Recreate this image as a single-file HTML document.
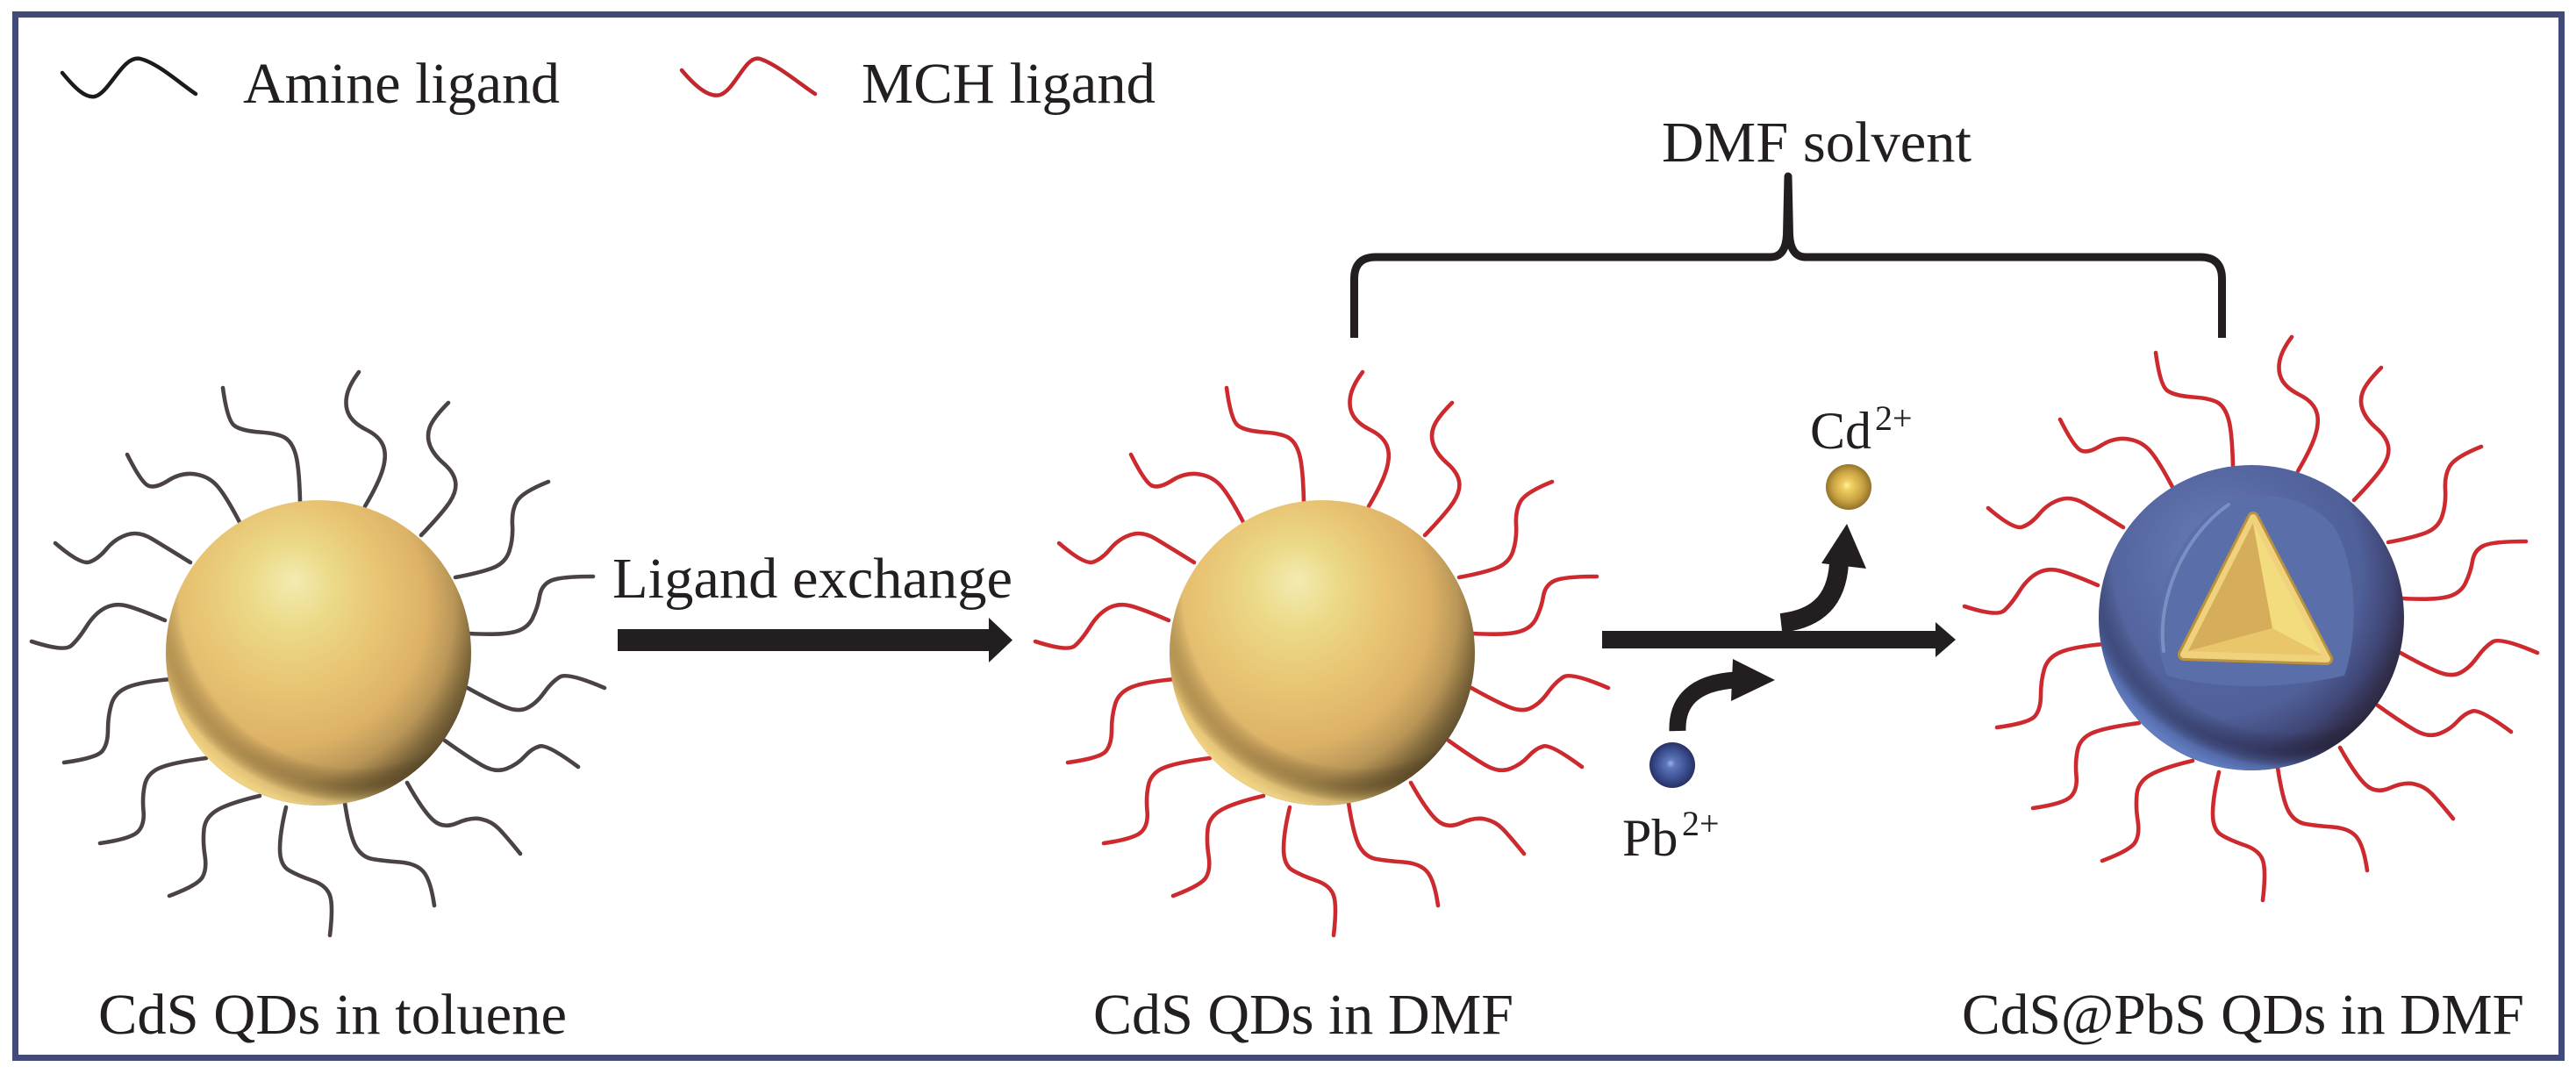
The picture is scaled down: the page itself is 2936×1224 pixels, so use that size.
<!DOCTYPE html>
<html>
<head>
<meta charset="utf-8">
<style>
  html,body{margin:0;padding:0;background:#fff;}
  svg{display:block;}
  text{font-family:"Liberation Serif","Times New Roman",serif;fill:#231f20;}
</style>
</head>
<body>
<svg xmlns="http://www.w3.org/2000/svg" xmlns:xlink="http://www.w3.org/1999/xlink" width="2936" height="1224" viewBox="0 0 2936 1224">
<defs>
  <radialGradient id="gold" cx="0.38" cy="0.38" r="0.68" fx="0.42" fy="0.26">
    <stop offset="0" stop-color="#f3ebb2"/>
    <stop offset="0.2" stop-color="#ebda88"/>
    <stop offset="0.45" stop-color="#e8c473"/>
    <stop offset="0.68" stop-color="#ddb267"/>
    <stop offset="0.82" stop-color="#b99657"/>
    <stop offset="0.93" stop-color="#786238"/>
    <stop offset="1" stop-color="#5a4a2b"/>
  </radialGradient>
  <radialGradient id="goldrim" cx="0.62" cy="0.3" r="0.72">
    <stop offset="0" stop-color="#000" stop-opacity="0"/>
    <stop offset="0.8" stop-color="#000" stop-opacity="0"/>
    <stop offset="0.88" stop-color="#5a461e" stop-opacity="0.3"/>
    <stop offset="0.96" stop-color="#f0d080" stop-opacity="0.75"/>
    <stop offset="1" stop-color="#f6da8a" stop-opacity="0.9"/>
  </radialGradient>
  <radialGradient id="blue" cx="0.38" cy="0.38" r="0.68" fx="0.4" fy="0.28">
    <stop offset="0" stop-color="#6c7eb6"/>
    <stop offset="0.45" stop-color="#5667a1"/>
    <stop offset="0.7" stop-color="#4f5f98"/>
    <stop offset="0.84" stop-color="#414777"/>
    <stop offset="0.94" stop-color="#312f4c"/>
    <stop offset="1" stop-color="#2a2740"/>
  </radialGradient>
  <radialGradient id="bluerim" cx="0.62" cy="0.3" r="0.72">
    <stop offset="0" stop-color="#000" stop-opacity="0"/>
    <stop offset="0.8" stop-color="#000" stop-opacity="0"/>
    <stop offset="0.88" stop-color="#1e1e3c" stop-opacity="0.3"/>
    <stop offset="0.96" stop-color="#5a76bb" stop-opacity="0.8"/>
    <stop offset="1" stop-color="#6682c6" stop-opacity="0.9"/>
  </radialGradient>
  <radialGradient id="cdion" cx="0.5" cy="0.5" r="0.55" fx="0.46" fy="0.46">
    <stop offset="0" stop-color="#fff2a0"/>
    <stop offset="0.18" stop-color="#f0d060"/>
    <stop offset="0.6" stop-color="#c9a242"/>
    <stop offset="0.88" stop-color="#98782e"/>
    <stop offset="1" stop-color="#7a6025"/>
  </radialGradient>
  <radialGradient id="pbion" cx="0.5" cy="0.5" r="0.55" fx="0.46" fy="0.46">
    <stop offset="0" stop-color="#9cb0e8"/>
    <stop offset="0.18" stop-color="#5e76bc"/>
    <stop offset="0.6" stop-color="#3b4f90"/>
    <stop offset="0.88" stop-color="#2a3468"/>
    <stop offset="1" stop-color="#1f2550"/>
  </radialGradient>

  <g id="lig" fill="none" stroke-width="4.6" stroke-linecap="round" stroke-linejoin="round">
    <path d="M-21,-173 Q-22,-212 -26,-226 Q-30,-240 -38,-245 Q-46,-250 -67,-251.5 Q-88,-253 -96,-259 Q-104,-265 -109,-302"/>
    <path d="M53,-167 Q69,-194 73.5,-210 Q78,-226 73.5,-236.5 Q69,-247 55,-254 Q41,-261 35.5,-270 Q30,-279 32,-291.5 Q34,-304 46,-320"/>
    <path d="M117,-134 Q142,-160 150,-172.5 Q158,-185 156,-195.5 Q154,-206 142.5,-216 Q131,-226 127,-236.5 Q123,-247 127,-257.5 Q131,-268 148,-285"/>
    <path d="M156,-86 Q183,-91 198,-96.5 Q213,-102 217.5,-116 Q222,-130 221,-146 Q220,-162 226,-172.5 Q232,-183 262,-195"/>
    <path d="M172,-22 Q206,-20 222,-23.5 Q238,-27 244,-39.5 Q250,-52 252,-64.5 Q254,-77 264.5,-82 Q275,-87 313,-87"/>
    <path d="M170,40 Q195,54 211,61 Q227,68 237.5,63 Q248,58 257,45.5 Q266,33 275,27.5 Q284,22 326,40"/>
    <path d="M144,100 Q172,120 187,128.5 Q202,137 214.5,132 Q227,127 235,118 Q243,109 252,106.5 Q261,104 296,130"/>
    <path d="M101,148 Q119,180 130.5,190.5 Q142,201 158,194 Q174,187 185.5,189.5 Q197,192 205,200 Q213,208 230,229"/>
    <path d="M30,171 Q36,210 43,221.5 Q50,233 61.5,235 Q73,237 92.5,238.5 Q112,240 120,250 Q128,260 132,288"/>
    <path d="M-37,176 Q-44,205 -44,223.5 Q-44,242 -33.5,248 Q-23,254 -7,259.5 Q9,265 13,276.5 Q17,288 13,322"/>
    <path d="M-67,163 Q-101,171 -115,179 Q-129,187 -130.5,201 Q-132,215 -129.5,231 Q-127,247 -132.5,256 Q-138,265 -170,277"/>
    <path d="M-128,120 Q-166,125 -180.5,131 Q-195,137 -198,150.5 Q-201,164 -199.5,180 Q-198,196 -206,204 Q-214,212 -249,217"/>
    <path d="M-168,30 Q-202,33 -217,39 Q-232,45 -236,58.5 Q-240,72 -240,88 Q-240,104 -246.5,112 Q-253,120 -290,125"/>
    <path d="M-175,-37 Q-205,-50 -218.5,-53.5 Q-232,-57 -243.5,-51 Q-255,-45 -264.5,-30 Q-274,-15 -282,-8 Q-290,-1 -327,-13"/>
    <path d="M-146,-103 Q-175,-121 -190,-130 Q-205,-139 -218.5,-134.5 Q-232,-130 -241.5,-118.5 Q-251,-107 -261,-103.5 Q-271,-100 -300,-125"/>
    <path d="M-90,-149 Q-104,-176 -114,-188.5 Q-124,-201 -140,-203.5 Q-156,-206 -171,-196.5 Q-186,-187 -194,-190.5 Q-202,-194 -218,-226"/>
  </g>
</defs>

<!-- frame -->
<rect x="17.5" y="16.5" width="2902" height="1189" fill="none" stroke="#414a78" stroke-width="7"/>

<!-- legend -->
<path d="M71,83 C85,100 97,112 108,110 C125,106 140,62 160,67 C180,72 205,95 223,107" fill="none" stroke="#1e1a1b" stroke-width="4.5" stroke-linecap="round"/>
<text x="277" y="117" font-size="66" textLength="361" lengthAdjust="spacingAndGlyphs">Amine ligand</text>
<path d="M777,80 C792,98 808,112 821,108 C838,102 850,62 866,67 C885,73 912,96 929,107" fill="none" stroke="#c1272d" stroke-width="4.5" stroke-linecap="round"/>
<text x="982" y="117" font-size="66" textLength="335" lengthAdjust="spacingAndGlyphs">MCH ligand</text>

<!-- DMF solvent bracket -->
<text x="1894" y="184" font-size="66" textLength="353" lengthAdjust="spacingAndGlyphs">DMF solvent</text>
<path d="M1543.5,385 L1543.5,318 Q1543.5,293 1568,293 L2018,293 Q2035,293 2036.5,268 L2038,201 L2039.5,268 Q2041,293 2058,293 L2508,293 Q2532.5,293 2532.5,318 L2532.5,385" fill="none" stroke="#231f20" stroke-width="9" stroke-linejoin="round"/>

<!-- Sphere 1: CdS with amine ligands -->
<use xlink:href="#lig" href="#lig" x="363" y="744" stroke="#4a4244"/>
<circle cx="363" cy="744" r="174" fill="url(#gold)"/>
<circle cx="363" cy="744" r="174" fill="url(#goldrim)"/>

<!-- Arrow 1 -->
<text x="698" y="681" font-size="66" textLength="456" lengthAdjust="spacingAndGlyphs">Ligand exchange</text>
<rect x="704" y="717" width="426" height="25" fill="#231f20"/>
<polygon points="1127,704 1154,729.5 1127,755" fill="#231f20"/>

<!-- Sphere 2: CdS with MCH ligands -->
<use xlink:href="#lig" href="#lig" x="1507" y="744" stroke="#cc2a2e"/>
<circle cx="1507" cy="744" r="174" fill="url(#gold)"/>
<circle cx="1507" cy="744" r="174" fill="url(#goldrim)"/>

<!-- Main reaction arrow -->
<rect x="1826" y="719" width="382" height="20" fill="#231f20"/>
<polygon points="2206,709 2229,729 2206,749" fill="#231f20"/>
<!-- Cd out-arrow -->
<path d="M2030,710 C2065,706 2093,690 2096,642" fill="none" stroke="#231f20" stroke-width="22"/>
<polygon points="2076,642 2127,648 2105,597" fill="#231f20"/>
<circle cx="2107" cy="555" r="26" fill="url(#cdion)"/>
<text x="2063" y="511" font-size="60">Cd</text>
<text x="2137" y="490" font-size="40">2+</text>
<!-- Pb in-arrow -->
<path d="M1912,833 C1911,800 1930,778 1978,775" fill="none" stroke="#231f20" stroke-width="19"/>
<polygon points="1975,751 1973,799 2023,775" fill="#231f20"/>
<circle cx="1906" cy="872" r="26" fill="url(#pbion)"/>
<text x="1849" y="975" font-size="60">Pb</text>
<text x="1917" y="952" font-size="40">2+</text>

<!-- Sphere 3: CdS@PbS -->
<use xlink:href="#lig" href="#lig" x="2566" y="704" stroke="#cc2a2e"/>
<circle cx="2566" cy="704" r="174" fill="url(#blue)"/>
<circle cx="2566" cy="704" r="174" fill="url(#bluerim)"/>
<!-- recess -->
<path d="M2470,770 C2440,700 2480,600 2540,572 C2580,558 2630,565 2660,600 C2690,650 2686,730 2672,770 C2600,786 2530,786 2470,770 Z" fill="#5a6ea9"/>
<path d="M2466,742 C2458,680 2490,610 2540,575" fill="none" stroke="#9cb0e0" stroke-width="4" stroke-linecap="round" opacity="0.5"/>
<!-- gold core triangle -->
<path d="M2568,590 L2489,746 L2652,751 Z" fill="#e9c66c" stroke="#b8923f" stroke-width="14" stroke-linejoin="round"/>
<path d="M2568,590 L2489,746 L2652,751 Z" fill="#e9c66c" stroke="#f1d27c" stroke-width="8" stroke-linejoin="round"/>
<polygon points="2568,596 2494,742 2590,716" fill="#d6ad5a"/>
<polygon points="2568,596 2590,716 2646,746" fill="#f2dc7e"/>
<polygon points="2494,742 2590,716 2646,746" fill="#eac66a"/>

<!-- bottom labels -->
<text x="112" y="1178" font-size="66" textLength="534" lengthAdjust="spacingAndGlyphs">CdS QDs in toluene</text>
<text x="1246" y="1178" font-size="66" textLength="479" lengthAdjust="spacingAndGlyphs">CdS QDs in DMF</text>
<text x="2236" y="1178" font-size="66" textLength="641" lengthAdjust="spacingAndGlyphs">CdS@PbS QDs in DMF</text>
</svg>
</body>
</html>
